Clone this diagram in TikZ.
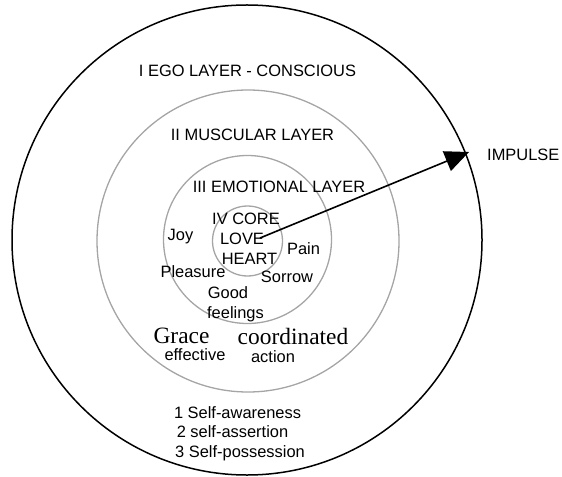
\documentclass[tikz,border=0pt]{standalone}
\usepackage{fontspec}
\setmainfont{Liberation Sans}
\newfontfamily\timesfont{Liberation Serif}
\usetikzlibrary{arrows.meta}
\begin{document}
\begin{tikzpicture}[x=1bp,y=-1bp,
  ring/.style={draw={rgb,255:red,165;green,165;blue,165},line width=1.3bp},
  outerring/.style={draw=black,line width=1.5bp},
  lbl/.style={inner sep=0pt,font=\fontsize{16.5}{19}\selectfont},
  big/.style={inner sep=0pt,font=\timesfont\fontsize{23.5}{27}\selectfont}]
\useasboundingbox (0,0) rectangle (562,477);
\draw[outerring] (247,240) circle[radius=235];
\draw[ring] (248,241) circle[radius=151];
\draw[ring] (247.5,239.5) circle[radius=84];
\draw[ring] (247.5,241) circle[radius=35];
\node[lbl] (ego) at (247.5,71) {I EGO LAYER - CONSCIOUS};
\node[lbl] (musc) at (252.5,135) {II MUSCULAR LAYER};
\node[lbl] (emo) at (279,187) {III EMOTIONAL LAYER};
\node[lbl] (core) at (246,219) {IV CORE};
\node[lbl] (love) at (242,239) {LOVE};
\node[lbl] (heart) at (249.5,259) {HEART};
\node[lbl] (joy) at (180.5,237) {Joy};
\node[lbl] (pain) at (303.5,249) {Pain};
\node[lbl] (pleasure) at (193,272) {Pleasure};
\node[lbl] (sorrow) at (287,277) {Sorrow};
\node[lbl] (good) at (228,293) {Good};
\node[lbl] (feel) at (235.5,314) {feelings};
\node[big] (grace) at (181.5,336) {Grace};
\node[big] (coord) at (293,336) {coordinated};
\node[lbl] (eff) at (195,355) {effective};
\node[lbl] (act) at (273,357) {action};
\node[lbl] (s1) at (237.5,413) {1 Self-awareness};
\node[lbl] (s2) at (232.5,432) {2 self-assertion};
\node[lbl] (s3) at (240,453) {3 Self-possession};
\node[lbl,anchor=west] (imp) at (487,155) {IMPULSE};
\coordinate (start) at (260,238);
\coordinate (tip) at (469,152);
\draw[line width=1.6bp,-{Triangle[length=24bp,width=21bp]}] (start) -- (tip);
\end{tikzpicture}
\end{document}
